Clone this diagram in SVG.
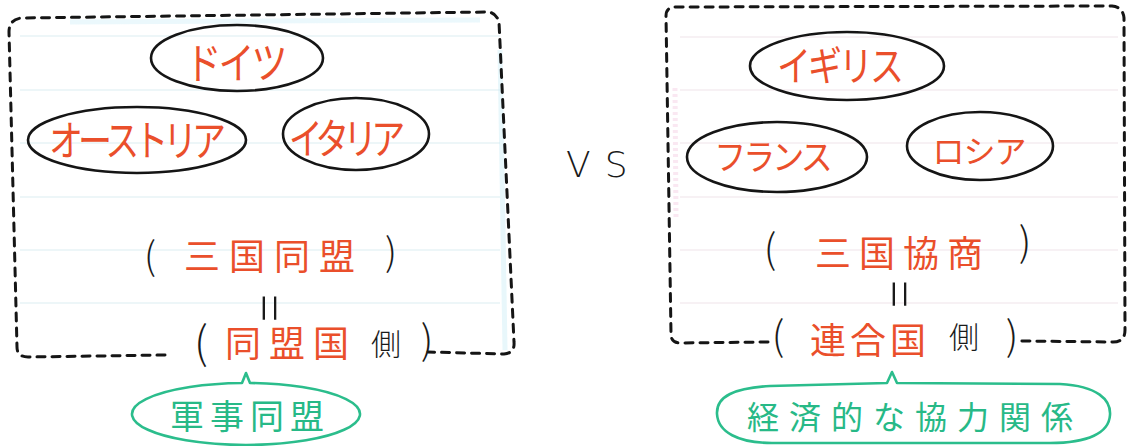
<svg xmlns="http://www.w3.org/2000/svg" width="1138" height="446" viewBox="0 0 1138 446">
  <defs>
    <style>
      .rule { stroke: #dcedf2; stroke-width: 1.2; fill: none; }
      .ruleR { stroke: #efe4ea; stroke-width: 1.2; fill: none; }
      .box { fill: none; stroke: #151515; stroke-width: 3; stroke-dasharray: 8 7; stroke-linecap: round; stroke-linejoin: round; }
      .oval { fill: none; stroke: #151515; stroke-width: 2.6; }
      .bubble { fill: none; stroke: #2bbd8c; stroke-width: 2.6; stroke-linejoin: round; }
      .jp { font-family: "Noto Sans CJK JP", "Noto Sans CJK SC", sans-serif; font-weight: 400; text-anchor: middle; }
      .red { fill: #ea4f2b; }
      .blk { fill: #1a1a1a; font-weight: 300; }
      .grn { fill: #27b987; }
      .par { font-family: "Noto Sans CJK JP", sans-serif; font-weight: 300; text-anchor: middle; fill: #1a1a1a; }
    </style>
  </defs>
  <rect x="0" y="0" width="1138" height="446" fill="#ffffff"/>

  <!-- paper: faint rules and marker streaks -->
  <g id="paper">
    <path class="rule" d="M20 36H500M20 90H500M20 143H500M20 197H500M20 250H500M20 303H500"/>
    <path class="ruleR" d="M680 37H1118M680 90H1118M680 143H1118M680 197H1118M680 250H1118M680 303H1118"/>
    <path d="M70 22 L480 20" stroke="#c6ebf5" stroke-width="5" opacity="0.35" fill="none"/>
    <path d="M500 50 L505 350" stroke="#c6ebf5" stroke-width="5" opacity="0.4" fill="none"/>
    <path d="M675 88 L676 218" stroke="#f4cde3" stroke-width="5" opacity="0.45" stroke-dasharray="3 3" fill="none"/>
  </g>

  <!-- dashed group frames -->
  <g id="connectors">
    <path class="box" d="M165 355 L28 357 Q17 357 17 347 L9 32 Q9 19 22 18 L487 12 Q496 12 499 22 L514 342 Q515 353 504 354 L428 352"/>
    <path class="box" d="M768 342 L680 343 Q671 343 671 334 L666 16 Q666 7 676 7 L1112 6 Q1123 7 1124 18 L1125 330 Q1125 342 1113 342 L1020 341"/>
  </g>

  <!-- Left group -->
  <g id="node-germany">
    <ellipse class="oval" cx="237" cy="58" rx="86" ry="33"/>
    <text class="jp red" transform="translate(235,79) scale(1,1.2)" font-size="36" letter-spacing="-3">ドイツ</text>
  </g>
  <g id="node-austria">
    <ellipse class="oval" cx="137" cy="140" rx="109" ry="33"/>
    <text class="jp red" transform="translate(135,156) scale(1,1.25)" font-size="34" letter-spacing="-5">オーストリア</text>
  </g>
  <g id="node-italy">
    <ellipse class="oval" cx="356" cy="134" rx="73" ry="36"/>
    <text class="jp red" transform="translate(344,154) scale(1,1.25)" font-size="34" letter-spacing="-6">イタリア</text>
  </g>
  <g id="node-triple-alliance">
    <text class="par" x="150" y="270" font-size="38">(</text>
    <text class="jp red" x="274" y="270" font-size="36" letter-spacing="9">三国同盟</text>
    <text class="par" x="391" y="266" font-size="38">)</text>
    <text class="par" transform="translate(266,308) rotate(90)" x="0" y="15" font-size="50">=</text>
  </g>
  <g id="node-central-powers">
    <text class="par" x="201" y="359" font-size="44">(</text>
    <text class="jp red" x="291" y="357" font-size="36" letter-spacing="8">同盟国</text>
    <text class="jp blk" x="386" y="355" font-size="30">側</text>
    <text class="par" x="427" y="354" font-size="40">)</text>
  </g>
  <g id="note-military">
    <path class="bubble" d="M250 383 A114 31 0 1 1 242 383 L246 373 Z"/>
    <text class="jp grn" x="250" y="429" font-size="34" letter-spacing="6">軍事同盟</text>
  </g>

  <!-- VS -->
  <g id="vs">
    <text x="566" y="177" font-family="DejaVu Sans, sans-serif" font-weight="200" font-size="36" letter-spacing="14" fill="#1a1a1a">VS</text>
  </g>

  <!-- Right group -->
  <g id="node-britain">
    <ellipse class="oval" cx="847" cy="66" rx="97" ry="34"/>
    <text class="jp red" transform="translate(839,81) scale(1,1.2)" font-size="34" letter-spacing="-3">イギリス</text>
  </g>
  <g id="node-france">
    <ellipse class="oval" cx="777" cy="157" rx="90" ry="35"/>
    <text class="jp red" transform="translate(772,170) scale(1,1.1)" font-size="32" letter-spacing="-3">フランス</text>
  </g>
  <g id="node-russia">
    <ellipse class="oval" cx="980" cy="146" rx="73" ry="34"/>
    <text class="jp red" x="979" y="163" font-size="32" letter-spacing="-1">ロシア</text>
  </g>
  <g id="node-triple-entente">
    <text class="par" x="770" y="263" font-size="40">(</text>
    <text class="jp red" x="903" y="267" font-size="36" letter-spacing="8">三国協商</text>
    <text class="par" x="1025" y="256" font-size="40">)</text>
    <text class="par" transform="translate(896,294) rotate(90)" x="0" y="15" font-size="50">=</text>
  </g>
  <g id="node-allies">
    <text class="par" x="778" y="350" font-size="40">(</text>
    <text class="jp red" x="870" y="354" font-size="36" letter-spacing="4">連合国</text>
    <text class="jp blk" x="964" y="348" font-size="30">側</text>
    <text class="par" x="1012" y="350" font-size="40">)</text>
  </g>
  <g id="note-economic">
    <path class="bubble" d="M897 383 L1060 384 C1098 386 1111 400 1110 415 C1109 433 1088 443 1050 443 L772 443 C738 443 718 432 717 414 C716 396 735 388 770 386 L887 383 L892 372 Z"/>
    <text class="jp grn" x="915" y="429" font-size="32" letter-spacing="10">経済的な協力関係</text>
  </g>
</svg>
